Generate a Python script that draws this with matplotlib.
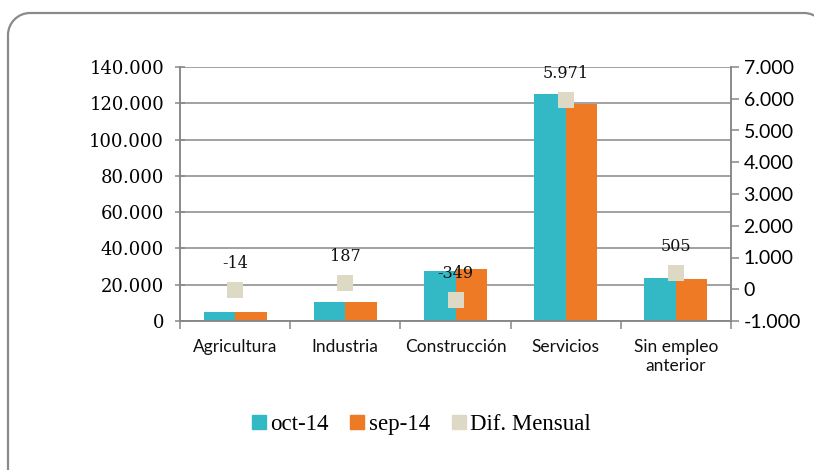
import matplotlib.pyplot as plt
from matplotlib.patches import PathPatch
from matplotlib.path import Path
from matplotlib.ticker import FuncFormatter, FixedLocator
from matplotlib.transforms import IdentityTransform
from matplotlib.lines import Line2D
import numpy as np

# data
categories = ["Agricultura", "Industria", "Construcción", "Servicios", "Sin empleo\nanterior"]
oct14 = [5000, 10500, 27400, 125200, 23800]
sep14 = [5100, 10600, 28400, 119700, 23100]
dif_mensual = [-14, 187, -349, 5971, 505]

teal = "#33B8C5"
orange = "#EE7A25"
beige = "#DDD9C4"
axis_gray = "#878787"

serif = "DejaVu Serif"
sans = "Lato"


def dots(v, pos=None):
    return f"{v:,.0f}".replace(",", ".")


fig = plt.figure(figsize=(8.14, 4.70), dpi=100)

# rounded outer frame in pixels, running off the right and bottom edges
x0, x1, y0, y1, r = 8, 826, -40, 457, 22
k = 0.55 * r
verts = [(x0, y0), (x0, y1 - r),
         (x0, y1 - r + k), (x0 + r - k, y1), (x0 + r, y1),
         (x1 - r, y1),
         (x1 - r + k, y1), (x1, y1 - r + k), (x1, y1 - r),
         (x1, y0)]
codes = [Path.MOVETO, Path.LINETO,
         Path.CURVE4, Path.CURVE4, Path.CURVE4,
         Path.LINETO,
         Path.CURVE4, Path.CURVE4, Path.CURVE4,
         Path.LINETO]
frame = PathPatch(Path(verts, codes), transform=IdentityTransform(), fill=False,
                  edgecolor="#8a8a8a", linewidth=1.6)
fig.patches.append(frame)

ax = fig.add_axes([180 / 814, 149 / 470, 551 / 814, 254 / 470])
x = np.arange(len(categories))
w = 0.285
ax.bar(x - w / 2, oct14, w, color=teal, label="oct-14", zorder=2)
ax.bar(x + w / 2, sep14, w, color=orange, label="sep-14", zorder=2)

ax.set_xlim(-0.5, len(categories) - 0.5)
ax.set_ylim(0, 140000)
ax.set_yticks(np.arange(0, 140001, 20000))
ax.yaxis.set_major_formatter(FuncFormatter(dots))
ax.grid(axis="y", color=axis_gray, linewidth=1.1, zorder=0)
ax.set_axisbelow(True)

ax.xaxis.set_major_locator(FixedLocator(np.arange(-0.5, len(categories), 1.0)))
ax.xaxis.set_major_formatter(FuncFormatter(lambda v, p: ""))
ax.xaxis.set_minor_locator(FixedLocator(x))
ax.set_xticklabels(categories, minor=True)
ax.tick_params(axis="x", which="minor", length=0, pad=13, labelsize=12.5)
ax.tick_params(axis="x", which="major", length=6, width=1.1, color=axis_gray, direction="out")
for lab in ax.get_xticklabels(minor=True):
    lab.set_family(sans)
    lab.set_color("#111111")
ax.tick_params(axis="y", length=7, width=1.1, color=axis_gray, direction="inout", labelsize=13, pad=8)
for lab in ax.get_yticklabels():
    lab.set_family(serif)

ax.spines["top"].set_visible(False)
for side in ["left", "bottom", "right"]:
    ax.spines[side].set_color(axis_gray)
    ax.spines[side].set_linewidth(1.1)

ax2 = ax.twinx()
ax2.set_ylim(-1000, 7000)
ax2.set_yticks(np.arange(-1000, 7001, 1000))
ax2.yaxis.set_major_formatter(FuncFormatter(dots))
ax2.tick_params(axis="y", length=6, width=1.1, color=axis_gray, direction="out", labelsize=14, pad=3)
for lab in ax2.get_yticklabels():
    lab.set_family(sans)
ax2.spines["top"].set_visible(False)
for side in ["left", "bottom", "right"]:
    ax2.spines[side].set_color(axis_gray)
    ax2.spines[side].set_linewidth(1.1)

ax2.plot(x, dif_mensual, linestyle="none", marker="s", markersize=11.5,
         color=beige, markeredgewidth=0, zorder=3)
for xi, d in zip(x, dif_mensual):
    ax2.annotate(dots(d), (xi, d), xytext=(0, 13), textcoords="offset points",
                 ha="center", va="bottom", family=serif, fontsize=11.5, color="#111111")

handles = [
    Line2D([], [], linestyle="none", marker="s", markersize=10.5, color=teal, label="oct-14"),
    Line2D([], [], linestyle="none", marker="s", markersize=10.5, color=orange, label="sep-14"),
    Line2D([], [], linestyle="none", marker="s", markersize=10.5, color=beige, label="Dif. Mensual"),
]
fig.legend(handles=handles, loc="center", bbox_to_anchor=(419 / 814, 1 - 424 / 470),
           ncol=3, frameon=False, prop={"family": "Liberation Serif", "size": 16.5},
           handletextpad=0.0, columnspacing=0.75, handlelength=1.0)

fig.savefig("out.png", dpi=100)
